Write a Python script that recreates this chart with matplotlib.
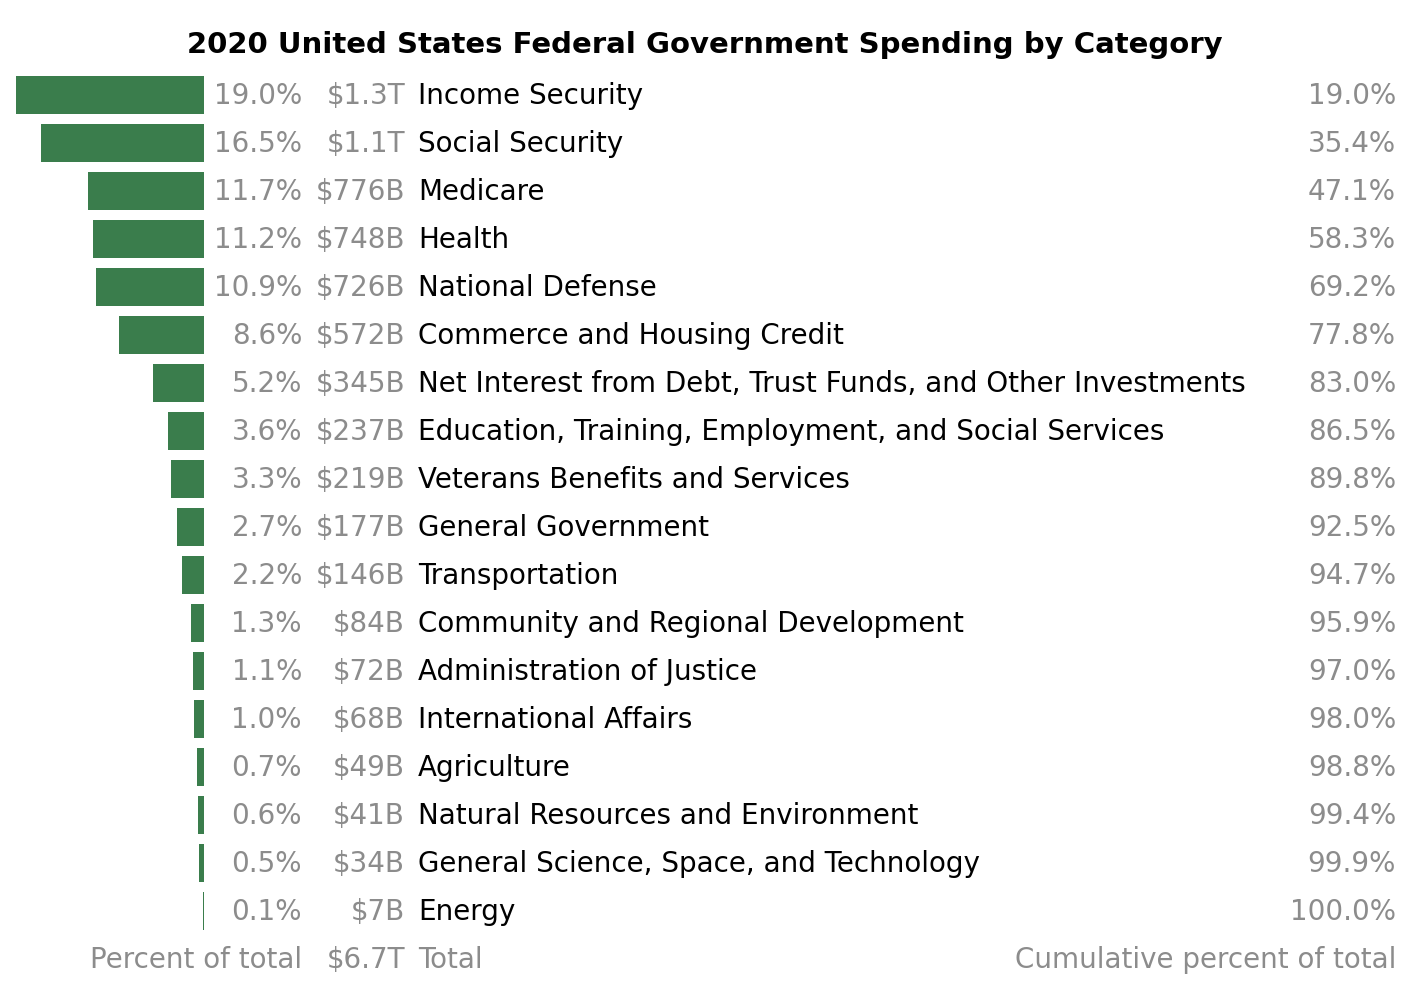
import matplotlib
matplotlib.use("Agg")
import matplotlib.pyplot as plt

# ── data ──────────────────────────────────────────
categories = [
    "Income Security", "Social Security", "Medicare", "Health", "National Defense",
    "Commerce and Housing Credit",
    "Net Interest from Debt, Trust Funds, and Other Investments",
    "Education, Training, Employment, and Social Services",
    "Veterans Benefits and Services", "General Government", "Transportation",
    "Community and Regional Development", "Administration of Justice",
    "International Affairs", "Agriculture", "Natural Resources and Environment",
    "General Science, Space, and Technology", "Energy",
]
percent = [19.0, 16.5, 11.7, 11.2, 10.9, 8.6, 5.2, 3.6, 3.3, 2.7, 2.2, 1.3, 1.1, 1.0, 0.7, 0.6, 0.5, 0.1]
amounts = ["$1.3T", "$1.1T", "$776B", "$748B", "$726B", "$572B", "$345B", "$237B", "$219B",
           "$177B", "$146B", "$84B", "$72B", "$68B", "$49B", "$41B", "$34B", "$7B"]
cumulative = [19.0, 35.4, 47.1, 58.3, 69.2, 77.8, 83.0, 86.5, 89.8, 92.5, 94.7, 95.9, 97.0,
              98.0, 98.8, 99.4, 99.9, 100.0]
total = "$6.7T"

GREEN = "#3a7d4c"
GREY = "#8c8c8c"
FONT = ["DejaVu Sans"]
FS = 20

W, H = 1414, 990
fig = plt.figure(figsize=(W / 100, H / 100), dpi=100)

# rows: row i centred at pixel 95 + 48*i
ylim = ((H - 95) / 48, -95 / 48)
dy = 0.03  # text sits a touch lower than the bar centre

ax = fig.add_axes([0, 0, 1, 1])
ax.set_xlim(0, W)
ax.set_ylim(*ylim)
ax.axis("off")

ax_bar = fig.add_axes([16 / W, 0, (204 - 16) / W, 1])
ax_bar.set_xlim(max(percent), 0)
ax_bar.set_ylim(*ylim)
ax_bar.axis("off")
ax_bar.barh(range(len(percent)), percent, height=0.8, color=GREEN)

for i, (cat, p, a, c) in enumerate(zip(categories, percent, amounts, cumulative)):
    y = i + dy
    ax.text(302, y, f"{p:.1f}%", ha="right", va="center", color=GREY, fontsize=FS, family=FONT)
    ax.text(405, y, a, ha="right", va="center", color=GREY, fontsize=FS, family=FONT)
    ax.text(418, y, cat, ha="left", va="center", color="black", fontsize=FS, family=FONT)
    ax.text(1396, y, f"{c:.1f}%", ha="right", va="center", color=GREY, fontsize=FS, family=FONT)

n = len(categories) + dy
ax.text(302, n, "Percent of total", ha="right", va="center", color=GREY, fontsize=FS, family=FONT)
ax.text(405, n, total, ha="right", va="center", color=GREY, fontsize=FS, family=FONT)
ax.text(418, n, "Total", ha="left", va="center", color=GREY, fontsize=FS, family=FONT)
ax.text(1396, n, "Cumulative percent of total", ha="right", va="center", color=GREY,
        fontsize=FS, family=FONT)

fig.text(705 / W, 1 - 45 / H, "2020 United States Federal Government Spending by Category",
         ha="center", va="center", fontsize=21, fontweight="bold", family=FONT)

fig.savefig("out.png", dpi=100)
